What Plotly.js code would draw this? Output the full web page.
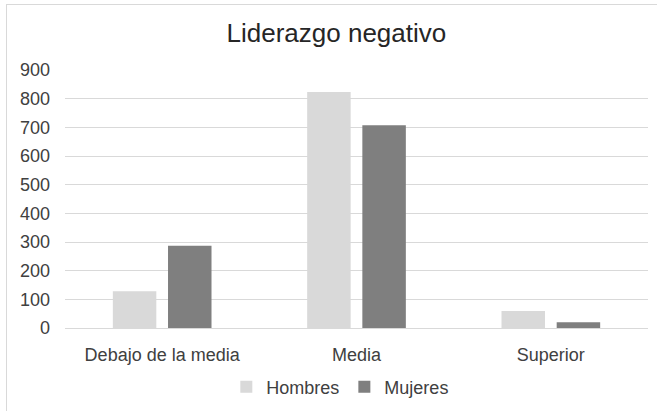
<!DOCTYPE html>
<html>
<head>
<meta charset="utf-8">
<script src="https://cdn.plot.ly/plotly-3.0.1.min.js"></script>
<style>
html,body{margin:0;padding:0;background:#fff;}
#wrap{position:relative;width:657px;height:411px;overflow:hidden;}
#chart{position:absolute;left:0;top:0;width:657px;height:411px;}
#frame{position:absolute;left:6px;top:4px;width:660px;height:420px;border:1px solid #d9d9d9;pointer-events:none;}
</style>
</head>
<body>
<div id="wrap"><div id="chart"></div><div id="frame"></div></div>
<script>
const categories = ["Debajo de la media", "Media", "Superior"];
const hombres = [128, 823, 59];
const mujeres = [287, 707, 20];
const yTicks = [0, 100, 200, 300, 400, 500, 600, 700, 800, 900];

const data = [
  {type: "bar", name: "Hombres", x: categories, y: hombres, marker: {color: "#d9d9d9"}, hoverinfo: "none"},
  {type: "bar", name: "Mujeres", x: categories, y: mujeres, marker: {color: "#7f7f7f"}, hoverinfo: "none"}
];

const layout = {
  width: 657, height: 411,
  paper_bgcolor: "rgba(0,0,0,0)", plot_bgcolor: "#fff",
  margin: {l: 65, r: 9, t: 70, b: 83, autoexpand: false},
  font: {family: "Liberation Sans, Arial, sans-serif", color: "#404040", size: 18},
  title: {text: "Liderazgo negativo", font: {size: 26, color: "#262626"}, x: 0.512, xanchor: "center", y: 0.92, yanchor: "middle"},
  barmode: "group",
  bargap: 0.432,
  bargroupgap: 0.212,
  showlegend: true,
  legend: {orientation: "h", x: 0.518, xanchor: "center", xref: "container", y: 0.058, yanchor: "middle", yref: "container", font: {size: 18}, itemwidth: 30, tracegroupgap: 0},
  xaxis: {
    type: "category", showgrid: false, showline: true, linecolor: "#d9d9d9", linewidth: 1,
    ticks: "", tickfont: {size: 18, color: "#404040"}, ticklabelstandoff: 10, automargin: false
  },
  yaxis: {
    range: [0, 900], tickvals: yTicks, ticktext: yTicks.map(String),
    showgrid: true, gridcolor: "#d9d9d9", gridwidth: 1, zeroline: false, showline: false,
    ticks: "", tickfont: {size: 18, color: "#404040"}, ticklabelstandoff: 14, automargin: false
  }
};

Plotly.newPlot("chart", data, layout, {staticPlot: true, displayModeBar: false});
</script>
</body>
</html>
